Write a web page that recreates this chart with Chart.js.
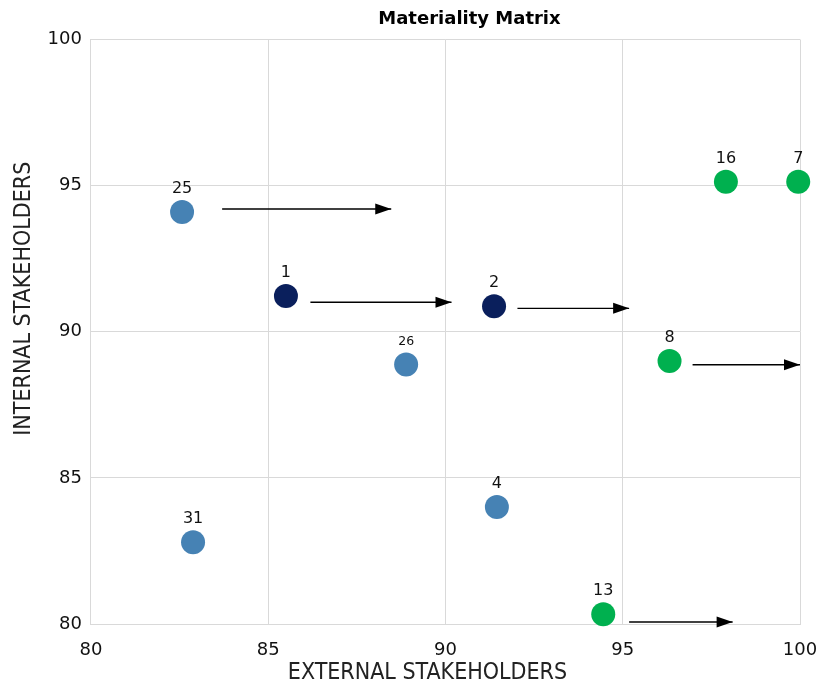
<!DOCTYPE html>
<html>
<head>
<meta charset="utf-8">
<script src="https://cdn.jsdelivr.net/npm/chart.js@4"></script>
<style>
  html, body { margin: 0; padding: 0; background: #fff; }
  #wrap { width: 817px; height: 684px; }
</style>
</head>
<body>
<div id="wrap"><canvas id="matrix"></canvas></div>
<script>
// issues on the matrix
const issueIds = ['25', '1', '2', '26', '16', '7', '8', '4', '31', '13'];
const externalScores = [82.57, 85.5, 91.37, 88.89, 97.91, 99.95, 96.32, 91.45, 82.88, 94.45];
const internalScores = [94.1, 91.22, 90.87, 88.88, 95.13, 95.13, 89.0, 84.0, 82.8, 80.33];
const issueGroups = ['blue', 'navy', 'navy', 'blue', 'green', 'green', 'green', 'blue', 'blue', 'green'];

// trend arrows
const arrowStartX = [83.7, 86.19, 92.03, 96.97, 95.18];
const arrowEndX = [88.47, 90.17, 95.18, 100, 98.1];
const arrowY = [94.2, 91.01, 90.8, 88.87, 80.07];

const groupColors = { blue: '#4682B4', navy: '#0A1F5C', green: '#00B04F' };
const titleFont = '"Liberation Sans Narrow", "DejaVu Sans Condensed", sans-serif';

const points = issueIds.map((id, i) => ({ x: externalScores[i], y: internalScores[i] }));

const arrowSets = arrowY.map((y, i) => ({
    type: 'line',
    data: [{ x: arrowStartX[i], y: y }, { x: arrowEndX[i], y: y }],
    borderColor: '#000',
    borderWidth: 1.4,
    pointRadius: 0,
    clip: false,
    isArrow: true
}));

// arrow heads at the end of each arrow line
const arrowHeads = {
    id: 'arrowHeads',
    afterDatasetsDraw(chart) {
        const ctx = chart.ctx;
        chart.data.datasets.forEach((ds, i) => {
            if (!ds.isArrow) return;
            const pts = chart.getDatasetMeta(i).data;
            const tip = pts[pts.length - 1];
            ctx.save();
            ctx.fillStyle = '#000';
            ctx.beginPath();
            ctx.moveTo(tip.x, tip.y);
            ctx.lineTo(tip.x - 16, tip.y - 5.5);
            ctx.lineTo(tip.x - 16, tip.y + 5.5);
            ctx.closePath();
            ctx.fill();
            ctx.restore();
        });
    }
};

// number labels above the bubbles
const pointLabels = {
    id: 'pointLabels',
    afterDatasetsDraw(chart) {
        const ctx = chart.ctx;
        const meta = chart.getDatasetMeta(0);
        ctx.save();
        ctx.fillStyle = '#111';
        ctx.textAlign = 'center';
        ctx.textBaseline = 'alphabetic';
        meta.data.forEach((pt, i) => {
            const small = issueIds[i] === '26';
            ctx.font = (small ? '12.5px' : '16px') + ' "DejaVu Sans"';
            ctx.fillText(issueIds[i], pt.x, pt.y - 19);
        });
        ctx.restore();
    }
};

// chart title and both axis titles (they sit a little off the plot middle)
const matrixTitles = {
    id: 'matrixTitles',
    afterDraw(chart) {
        const ctx = chart.ctx;
        const a = chart.chartArea;
        const midX = (a.left + a.right) / 2;
        ctx.save();
        ctx.font = 'bold 18px "DejaVu Sans"';
        ctx.fillStyle = '#000';
        ctx.textAlign = 'center';
        ctx.textBaseline = 'middle';
        ctx.fillText('Materiality Matrix', midX + 24, 19);

        ctx.font = '23px ' + titleFont;
        ctx.fillStyle = '#222';
        ctx.fillText('EXTERNAL STAKEHOLDERS', midX - 18, 673);

        ctx.translate(24, (a.top + a.bottom) / 2 - 33);
        ctx.rotate(-Math.PI / 2);
        ctx.fillText('INTERNAL STAKEHOLDERS', 0, 0);
        ctx.restore();
    }
};

new Chart(document.getElementById('matrix'), {
    type: 'scatter',
    data: {
        datasets: [{
            data: points,
            backgroundColor: issueGroups.map(g => groupColors[g]),
            borderWidth: 0,
            pointRadius: 12,
            pointHoverRadius: 12,
            clip: false
        }, ...arrowSets]
    },
    options: {
        responsive: true,
        maintainAspectRatio: false,
        animation: false,
        layout: { padding: { top: 39.5, right: 0, bottom: 6.4, left: 38.6 } },
        plugins: {
            legend: { display: false },
            tooltip: { enabled: false }
        },
        scales: {
            x: {
                type: 'linear',
                min: 80,
                max: 100,
                ticks: { stepSize: 5, color: '#111', font: { family: 'DejaVu Sans', size: 18 }, padding: 16 },
                grid: { color: '#d9d9d9', tickLength: 0 },
                border: { color: '#d9d9d9' },
                // let the "100" label run to the canvas edge like the original
                afterFit: scale => { scale.paddingRight = 17; }
            },
            y: {
                min: 80,
                max: 100,
                ticks: { stepSize: 5, color: '#111', font: { family: 'DejaVu Sans', size: 18 }, padding: 9 },
                grid: { color: '#d9d9d9', tickLength: 0 },
                border: { color: '#d9d9d9' }
            }
        }
    },
    plugins: [arrowHeads, pointLabels, matrixTitles]
});
</script>
</body>
</html>
